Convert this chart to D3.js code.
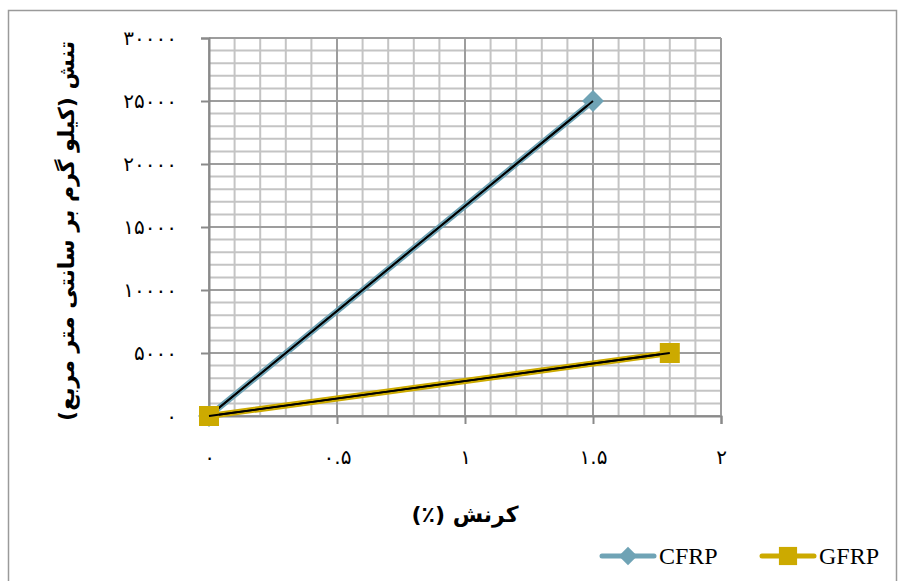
<!DOCTYPE html>
<html>
<head>
<meta charset="utf-8">
<script src="https://cdn.jsdelivr.net/npm/d3@7"></script>
<style>
  html, body { margin: 0; padding: 0; background: #fff; }
  svg { display: block; }
</style>
</head>
<body>
<svg id="chart" width="904" height="581"></svg>
<script>
// Series: strain (%) vs stress (kg/cm²)
const seriesNames = ["CFRP", "GFRP"];
const cfrpStrain = [0, 1.5];
const cfrpStress = [0, 25000];
const gfrpStrain = [0, 1.8];
const gfrpStress = [0, 5000];

const xTicks = [0, 0.5, 1, 1.5, 2];
const xTickLabels = ["۰", "۰.۵", "۱", "۱.۵", "۲"];
const yTicks = [0, 5000, 10000, 15000, 20000, 25000, 30000];
const yTickLabels = ["۰", "۵۰۰۰", "۱۰۰۰۰", "۱۵۰۰۰", "۲۰۰۰۰", "۲۵۰۰۰", "۳۰۰۰۰"];

const xTitle = "کرنش (٪)";
const yTitle = "تنش (کیلو گرم بر سانتی متر مربع)";

const colors = { CFRP: "#6fa3b5", GFRP: "#ccaa00" };

const svg = d3.select("#chart");

// chart frame
svg.append("rect")
  .attr("x", 8.5).attr("y", 10.5)
  .attr("width", 888).attr("height", 620)
  .attr("fill", "#fff").attr("stroke", "#9a9a9a").attr("stroke-width", 1.5);

const plot = { left: 209, right: 721, top: 38, bottom: 416 };
const x = d3.scaleLinear().domain([0, 2]).range([plot.left, plot.right]);
const y = d3.scaleLinear().domain([0, 30000]).range([plot.bottom, plot.top]);

// minor grid
const g = svg.append("g");
const minorX = d3.range(0, 2.0001, 0.1);
const minorY = d3.range(0, 30001, 1000);
g.selectAll("line.mx").data(minorX).join("line")
  .attr("x1", d => x(d)).attr("x2", d => x(d))
  .attr("y1", plot.top).attr("y2", plot.bottom)
  .attr("stroke", "#c4c4c4").attr("stroke-width", 2);
g.selectAll("line.my").data(minorY).join("line")
  .attr("y1", d => y(d)).attr("y2", d => y(d))
  .attr("x1", plot.left).attr("x2", plot.right)
  .attr("stroke", "#c4c4c4").attr("stroke-width", 2);
// major grid
g.selectAll("line.Mx").data(xTicks).join("line")
  .attr("x1", d => x(d)).attr("x2", d => x(d))
  .attr("y1", plot.top).attr("y2", plot.bottom)
  .attr("stroke", "#9d9d9d").attr("stroke-width", 2);
g.selectAll("line.My").data(yTicks).join("line")
  .attr("y1", d => y(d)).attr("y2", d => y(d))
  .attr("x1", plot.left).attr("x2", plot.right)
  .attr("stroke", "#9d9d9d").attr("stroke-width", 2);

// axes
const tickFmtX = d => xTickLabels[xTicks.indexOf(d)];
const tickFmtY = d => yTickLabels[yTicks.indexOf(d)];

const xAxis = svg.append("g")
  .attr("transform", `translate(0,${plot.bottom})`)
  .call(d3.axisBottom(x).tickValues(xTicks).tickFormat(tickFmtX).tickSize(8).tickPadding(26));
const yAxis = svg.append("g")
  .attr("transform", `translate(${plot.left},0)`)
  .call(d3.axisLeft(y).tickValues(yTicks).tickFormat(tickFmtY).tickSize(8).tickPadding(24));

[xAxis, yAxis].forEach(a => {
  a.select(".domain").attr("stroke", "#8a8a8a").attr("stroke-width", 2);
  a.selectAll(".tick line").attr("stroke", "#8a8a8a").attr("stroke-width", 2);
  a.selectAll(".tick text")
    .attr("fill", "#000")
    .style("font-family", "'DejaVu Sans', sans-serif")
    .style("font-size", "20px");
});
yAxis.selectAll(".tick text").style("letter-spacing", "4px");
xAxis.selectAll(".tick text").style("letter-spacing", "2px");

// series
const series = [
  { name: "CFRP", pts: cfrpStrain.map((s, i) => [s, cfrpStress[i]]), marker: "diamond" },
  { name: "GFRP", pts: gfrpStrain.map((s, i) => [s, gfrpStress[i]]), marker: "square" }
];
const line = d3.line().x(d => x(d[0])).y(d => y(d[1]));

series.forEach(s => {
  const sg = svg.append("g");
  sg.append("path").datum(s.pts).attr("d", line)
    .attr("fill", "none").attr("stroke", colors[s.name]).attr("stroke-width", 6)
    .attr("stroke-linecap", "round");
  sg.append("path").datum(s.pts).attr("d", line)
    .attr("fill", "none").attr("stroke", "#000").attr("stroke-width", 1.8);
  const sym = s.marker === "diamond"
    ? d3.symbol().type(d3.symbolSquare).size(240)
    : d3.symbol().type(d3.symbolSquare).size(400);
  sg.selectAll("path.m").data(s.pts).join("path")
    .attr("class", "m")
    .attr("d", sym)
    .attr("transform", d => `translate(${x(d[0])},${y(d[1])})` + (s.marker === "diamond" ? " rotate(45)" : ""))
    .attr("fill", colors[s.name]);
  // line end drawn over the marker
  sg.append("path").datum(s.pts).attr("d", line)
    .attr("fill", "none").attr("stroke", "#000").attr("stroke-width", 1.8);
});

// axis titles
svg.append("text")
  .attr("x", x(1)).attr("y", 522)
  .attr("text-anchor", "middle")
  .attr("direction", "rtl")
  .style("font-family", "'DejaVu Sans', sans-serif")
  .style("font-size", "22px").style("font-weight", "bold")
  .text(xTitle);

svg.append("text")
  .attr("transform", `translate(74,${(plot.top + plot.bottom) / 2 + 4}) rotate(-90)`)
  .attr("text-anchor", "middle")
  .attr("direction", "rtl")
  .style("font-family", "'DejaVu Sans', sans-serif")
  .style("font-size", "22px").style("font-weight", "bold")
  .text(yTitle);

// legend
const legend = svg.append("g");
const legendItems = [
  { name: "CFRP", x0: 602, marker: "diamond" },
  { name: "GFRP", x0: 762, marker: "square" }
];
legendItems.forEach(it => {
  const ly = 556;
  legend.append("line")
    .attr("x1", it.x0).attr("x2", it.x0 + 52).attr("y1", ly).attr("y2", ly)
    .attr("stroke", colors[it.name]).attr("stroke-width", 5).attr("stroke-linecap", "round");
  const sym = it.marker === "diamond"
    ? d3.symbol().type(d3.symbolSquare).size(170)
    : d3.symbol().type(d3.symbolSquare).size(330);
  legend.append("path").attr("d", sym)
    .attr("transform", `translate(${it.x0 + 26},${ly})` + (it.marker === "diamond" ? " rotate(45)" : ""))
    .attr("fill", colors[it.name]);
  legend.append("text")
    .attr("x", it.x0 + 57).attr("y", ly + 8)
    .style("font-family", "'Liberation Serif', serif")
    .style("font-size", "24px")
    .attr("fill", "#000")
    .text(it.name);
});
</script>
</body>
</html>
